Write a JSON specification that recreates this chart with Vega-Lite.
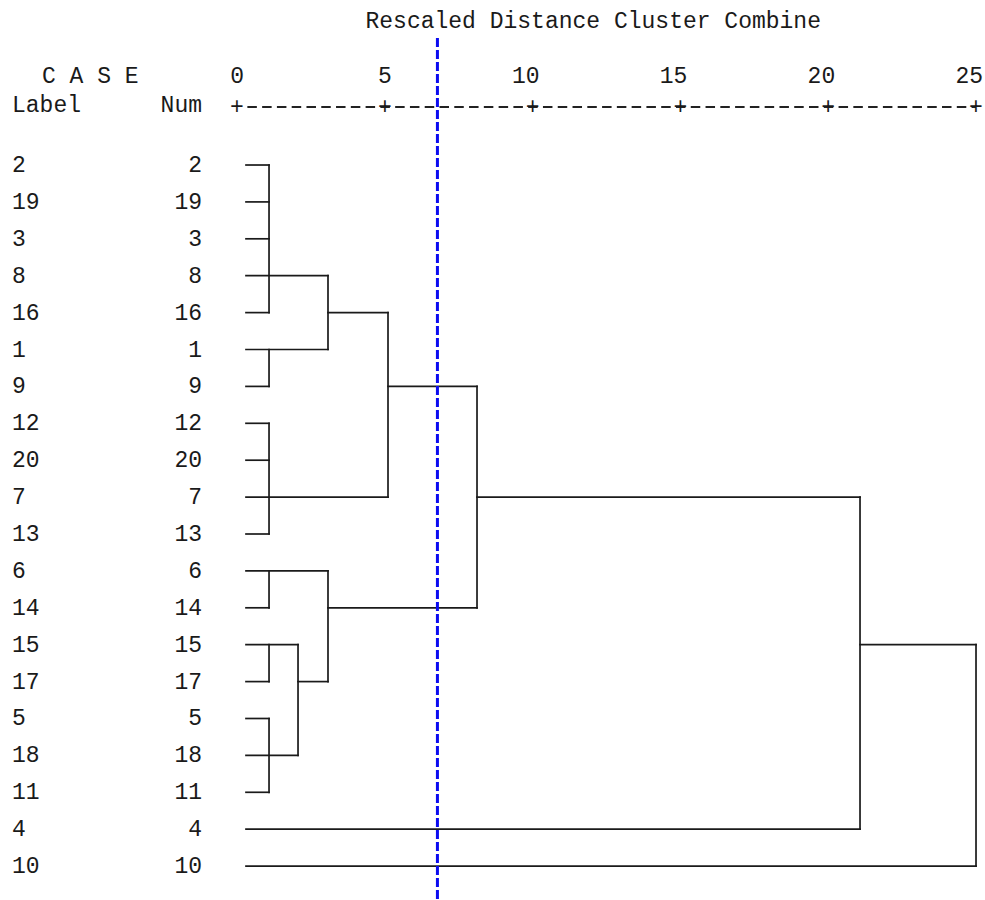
{
  "$schema": "https://vega.github.io/schema/vega-lite/v6.json",
  "width": 985,
  "height": 900,
  "autosize": {"type": "none"},
  "padding": 0,
  "background": "white",
  "config": {"view": {"stroke": null}, "text": {"font": "Liberation Mono", "fontSize": 23, "color": "#1a1a1a", "baseline": "middle"}},
  "datasets": {
    "rows": [
      {"row": 0, "case": "2"}, {"row": 1, "case": "19"}, {"row": 2, "case": "3"}, {"row": 3, "case": "8"},
      {"row": 4, "case": "16"}, {"row": 5, "case": "1"}, {"row": 6, "case": "9"}, {"row": 7, "case": "12"},
      {"row": 8, "case": "20"}, {"row": 9, "case": "7"}, {"row": 10, "case": "13"}, {"row": 11, "case": "6"},
      {"row": 12, "case": "14"}, {"row": 13, "case": "15"}, {"row": 14, "case": "17"}, {"row": 15, "case": "5"},
      {"row": 16, "case": "18"}, {"row": 17, "case": "11"}, {"row": 18, "case": "4"}, {"row": 19, "case": "10"}
    ],
    "segments": [
      {"x1": 0.304, "x2": 1.083, "y1": 0, "y2": 0},
      {"x1": 0.304, "x2": 1.083, "y1": 1, "y2": 1},
      {"x1": 0.304, "x2": 1.083, "y1": 2, "y2": 2},
      {"x1": 0.304, "x2": 3.078, "y1": 3, "y2": 3},
      {"x1": 0.304, "x2": 1.083, "y1": 4, "y2": 4},
      {"x1": 3.078, "x2": 5.108, "y1": 4, "y2": 4},
      {"x1": 0.304, "x2": 3.078, "y1": 5, "y2": 5},
      {"x1": 0.304, "x2": 1.083, "y1": 6, "y2": 6},
      {"x1": 5.108, "x2": 8.119, "y1": 6, "y2": 6},
      {"x1": 0.304, "x2": 1.083, "y1": 7, "y2": 7},
      {"x1": 0.304, "x2": 1.083, "y1": 8, "y2": 8},
      {"x1": 0.304, "x2": 5.108, "y1": 9, "y2": 9},
      {"x1": 8.119, "x2": 21.076, "y1": 9, "y2": 9},
      {"x1": 0.304, "x2": 1.083, "y1": 10, "y2": 10},
      {"x1": 0.304, "x2": 3.078, "y1": 11, "y2": 11},
      {"x1": 0.304, "x2": 1.083, "y1": 12, "y2": 12},
      {"x1": 3.078, "x2": 8.119, "y1": 12, "y2": 12},
      {"x1": 0.304, "x2": 2.064, "y1": 13, "y2": 13},
      {"x1": 21.076, "x2": 25.0, "y1": 13, "y2": 13},
      {"x1": 0.304, "x2": 1.083, "y1": 14, "y2": 14},
      {"x1": 2.064, "x2": 3.078, "y1": 14, "y2": 14},
      {"x1": 0.304, "x2": 1.083, "y1": 15, "y2": 15},
      {"x1": 0.304, "x2": 2.064, "y1": 16, "y2": 16},
      {"x1": 0.304, "x2": 1.083, "y1": 17, "y2": 17},
      {"x1": 0.304, "x2": 21.076, "y1": 18, "y2": 18},
      {"x1": 0.304, "x2": 25.0, "y1": 19, "y2": 19},
      {"x1": 1.083, "x2": 1.083, "y1": 0, "y2": 4},
      {"x1": 1.083, "x2": 1.083, "y1": 5, "y2": 6},
      {"x1": 1.083, "x2": 1.083, "y1": 7, "y2": 10},
      {"x1": 1.083, "x2": 1.083, "y1": 11, "y2": 12},
      {"x1": 1.083, "x2": 1.083, "y1": 13, "y2": 14},
      {"x1": 1.083, "x2": 1.083, "y1": 15, "y2": 17},
      {"x1": 2.064, "x2": 2.064, "y1": 13, "y2": 16},
      {"x1": 3.078, "x2": 3.078, "y1": 3, "y2": 5},
      {"x1": 3.078, "x2": 3.078, "y1": 11, "y2": 14},
      {"x1": 5.108, "x2": 5.108, "y1": 4, "y2": 9},
      {"x1": 8.119, "x2": 8.119, "y1": 6, "y2": 12},
      {"x1": 21.076, "x2": 21.076, "y1": 9, "y2": 18},
      {"x1": 25.0, "x2": 25.0, "y1": 13, "y2": 19}
    ],
    "ticks": [
      {"d": 0, "label": "0"}, {"d": 5, "label": "5"}, {"d": 10, "label": "10"},
      {"d": 15, "label": "15"}, {"d": 20, "label": "20"}, {"d": 25, "label": "25"}
    ],
    "headerLeft": [
      {"x": -6.6, "y": -2.4, "text": "C A S E"},
      {"x": -7.612, "y": -1.62, "text": "Label"}
    ],
    "headerRight": [
      {"x": -1.184, "y": -1.62, "text": "Num"}
    ],
    "title": [
      {"x": 12.05, "y": -3.9, "text": "Rescaled Distance Cluster Combine"}
    ],
    "axisLine": [
      {"x1": 0.35, "x2": 25.0, "y": -1.57}
    ],
    "cut": [
      {"x": 6.78, "y1": -3.44, "y2": 19.919}
    ]
  },
  "layer": [
    {
      "data": {"name": "axisLine"},
      "mark": {"type": "rule", "color": "#222222", "strokeWidth": 2, "strokeDash": [9.5, 5.28]},
      "encoding": {
        "x": {"field": "x1", "type": "quantitative", "scale": {"domain": [-8.018, 25.304], "nice": false, "zero": false}, "axis": null},
        "x2": {"field": "x2"},
        "y": {"field": "y", "type": "quantitative", "scale": {"domain": [-4.472, 19.919], "nice": false, "zero": false, "reverse": true}, "axis": null}
      }
    },
    {
      "data": {"name": "ticks"},
      "mark": {"type": "text", "align": "center"},
      "encoding": {
        "x": {"field": "d", "type": "quantitative"},
        "y": {"datum": -1.57, "type": "quantitative"},
        "text": {"value": "+"}
      }
    },
    {
      "data": {"name": "ticks"},
      "mark": {"type": "text", "align": "right", "dx": 7},
      "encoding": {
        "x": {"field": "d", "type": "quantitative"},
        "y": {"datum": -2.4, "type": "quantitative"},
        "text": {"field": "label"}
      }
    },
    {
      "data": {"name": "title"},
      "mark": {"type": "text", "align": "center"},
      "encoding": {
        "x": {"field": "x", "type": "quantitative"},
        "y": {"field": "y", "type": "quantitative"},
        "text": {"field": "text"}
      }
    },
    {
      "data": {"name": "headerLeft"},
      "mark": {"type": "text", "align": "left"},
      "encoding": {
        "x": {"field": "x", "type": "quantitative"},
        "y": {"field": "y", "type": "quantitative"},
        "text": {"field": "text"}
      }
    },
    {
      "data": {"name": "headerRight"},
      "mark": {"type": "text", "align": "right"},
      "encoding": {
        "x": {"field": "x", "type": "quantitative"},
        "y": {"field": "y", "type": "quantitative"},
        "text": {"field": "text"}
      }
    },
    {
      "data": {"name": "rows"},
      "mark": {"type": "text", "align": "left"},
      "encoding": {
        "x": {"datum": -7.612, "type": "quantitative"},
        "y": {"field": "row", "type": "quantitative"},
        "text": {"field": "case"}
      }
    },
    {
      "data": {"name": "rows"},
      "mark": {"type": "text", "align": "right"},
      "encoding": {
        "x": {"datum": -1.184, "type": "quantitative"},
        "y": {"field": "row", "type": "quantitative"},
        "text": {"field": "case"}
      }
    },
    {
      "data": {"name": "segments"},
      "mark": {"type": "rule", "color": "#1a1a1a", "strokeWidth": 1.7, "strokeCap": "square"},
      "encoding": {
        "x": {"field": "x1", "type": "quantitative"},
        "x2": {"field": "x2"},
        "y": {"field": "y1", "type": "quantitative"},
        "y2": {"field": "y2"}
      }
    },
    {
      "data": {"name": "cut"},
      "mark": {"type": "rule", "color": "#0b0bf0", "strokeWidth": 3, "strokeDash": [9, 3]},
      "encoding": {
        "x": {"field": "x", "type": "quantitative"},
        "y": {"field": "y1", "type": "quantitative"},
        "y2": {"field": "y2"}
      }
    }
  ]
}
